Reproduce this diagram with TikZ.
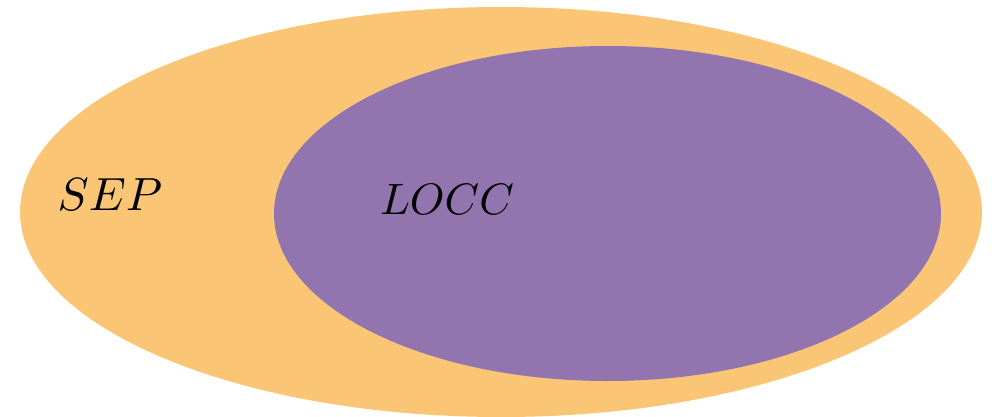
\documentclass[tikz,border=0pt]{standalone}
\usepackage{graphicx}
\definecolor{sepcol}{HTML}{FAC575}
\definecolor{locccol}{HTML}{9274AE}
\begin{document}
\begin{tikzpicture}[x=1pt,y=-1pt,
  lbl/.style={anchor=base,inner sep=0pt}]
\useasboundingbox (0,0) rectangle (992,417);
\fill[sepcol] (501,212) ellipse [x radius=481, y radius=205];
\fill[locccol] (607.5,213.5) ellipse [x radius=333.5, y radius=167.5];
\node[lbl] (sep) at (110,210) {\scalebox{4.65}{$SEP$}};
\node[lbl] (locc) at (447,214) {\scalebox{4.4}{$LOCC$}};
\end{tikzpicture}
\end{document}
